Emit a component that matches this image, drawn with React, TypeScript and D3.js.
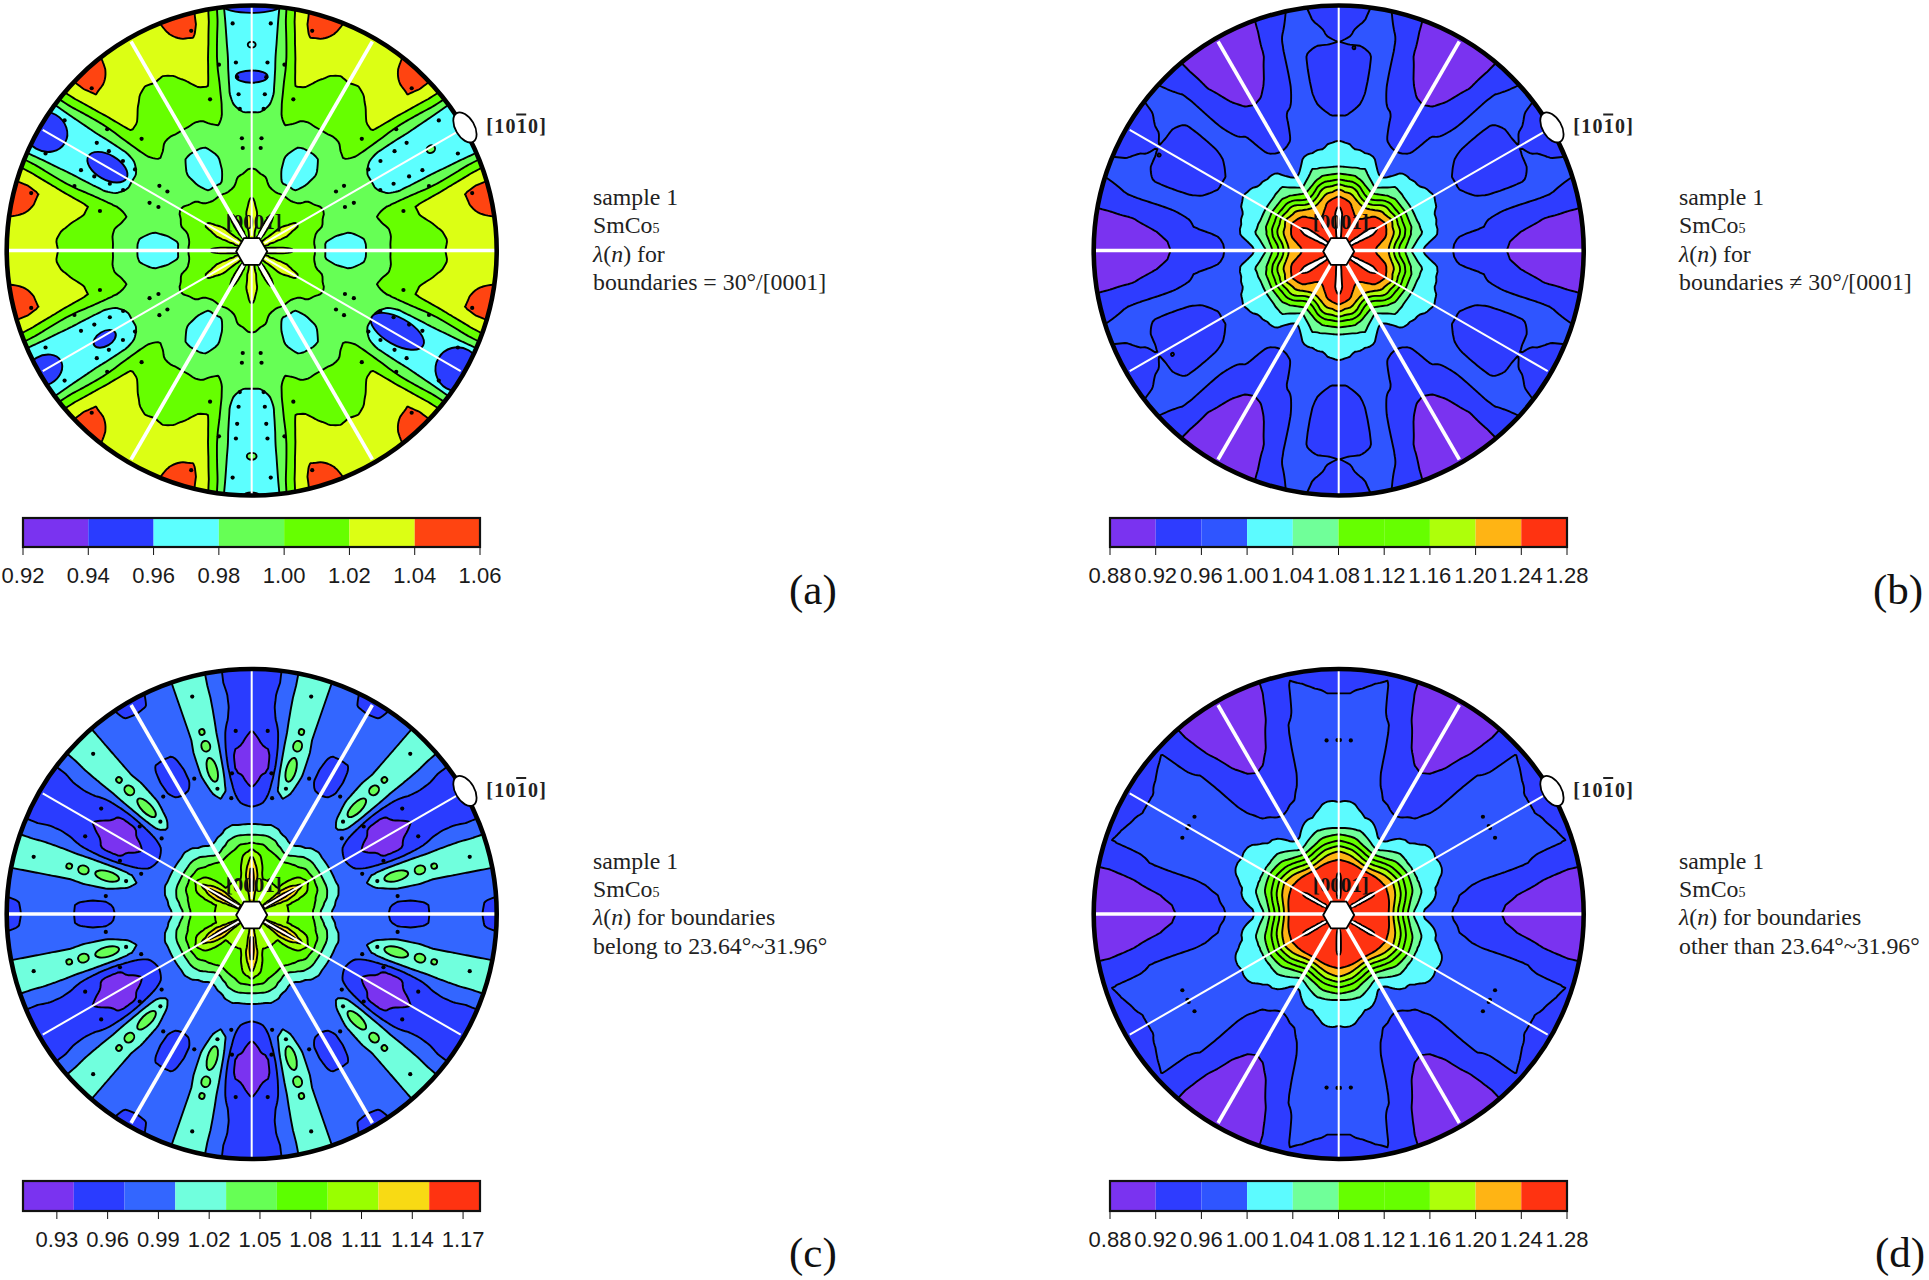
import * as d3 from 'd3';

// radial position (fraction of the circle radius) and angle from the thick axis, degrees
const radiusSteps = [0.05, 0.1, 0.15, 0.2, 0.25, 0.3, 0.35, 0.4, 0.45, 0.5, 0.55, 0.6, 0.65, 0.7, 0.75, 0.8, 0.85, 0.9, 0.95, 1.0];
const angleSteps = [0, 3, 6, 9, 12, 15, 18, 21, 24, 27, 30];

// lambda(n), one row per angle step
const lambdaA = [
  [1.03, 1.03, 1.024, 1.014, 1.004, 0.98, 0.972, 0.968, 0.976, 0.988, 0.998, 1.004, 1.01, 1.012, 1.016, 1.021, 1.028, 1.032, 1.034, 1.034],
  [1.03, 1.03, 1.022, 1.013, 1.004, 0.98, 0.972, 0.968, 0.976, 0.988, 0.998, 1.004, 1.01, 1.012, 1.015, 1.02, 1.028, 1.032, 1.035, 1.036],
  [1.022, 1.021, 1.016, 1.01, 1.003, 0.98, 0.972, 0.968, 0.978, 0.988, 0.997, 1.004, 1.01, 1.013, 1.017, 1.022, 1.03, 1.034, 1.038, 1.038],
  [1.015, 1.014, 1.012, 1.01, 1.003, 0.985, 0.978, 0.975, 0.985, 0.992, 0.998, 1.004, 1.012, 1.016, 1.021, 1.028, 1.034, 1.037, 1.04, 1.041],
  [1.015, 1.014, 1.012, 1.01, 1.004, 0.99, 0.986, 0.985, 0.988, 0.994, 1.001, 1.006, 1.014, 1.02, 1.026, 1.032, 1.036, 1.039, 1.045, 1.045],
  [1.015, 1.014, 1.012, 1.01, 1.004, 0.995, 0.99, 0.988, 0.99, 0.996, 1.003, 1.008, 1.015, 1.021, 1.026, 1.032, 1.037, 1.04, 1.045, 1.045],
  [1.016, 1.014, 1.012, 1.01, 1.005, 1.0, 0.992, 0.988, 0.99, 0.994, 0.998, 1.002, 1.006, 1.01, 1.012, 1.015, 1.02, 1.026, 1.032, 1.035],
  [1.024, 1.022, 1.02, 1.012, 1.006, 1.002, 0.992, 0.988, 0.986, 0.986, 0.984, 0.982, 0.982, 0.984, 0.986, 0.99, 0.995, 1.0, 1.006, 1.01],
  [1.028, 1.026, 1.024, 1.014, 1.008, 1.003, 0.994, 0.988, 0.986, 0.984, 0.983, 0.979, 0.976, 0.975, 0.975, 0.975, 0.974, 0.974, 0.974, 0.974],
  [1.03, 1.03, 1.028, 1.022, 1.012, 1.005, 0.997, 0.99, 0.988, 0.986, 0.982, 0.975, 0.972, 0.97, 0.97, 0.968, 0.968, 0.968, 0.968, 0.966],
  [1.032, 1.032, 1.03, 1.024, 1.012, 1.005, 0.998, 0.992, 0.988, 0.985, 0.982, 0.975, 0.972, 0.97, 0.968, 0.968, 0.968, 0.966, 0.966, 0.964],
];

const lambdaB = [
  [1.27, 1.26, 1.24, 1.207, 1.11, 1.035, 0.995, 0.98, 0.965, 0.95, 0.94, 0.93, 0.925, 0.918, 0.912, 0.905, 0.9, 0.9, 0.897, 0.897],
  [1.27, 1.26, 1.242, 1.21, 1.115, 1.045, 1.002, 0.98, 0.966, 0.952, 0.942, 0.932, 0.927, 0.92, 0.913, 0.907, 0.902, 0.9, 0.898, 0.898],
  [1.27, 1.262, 1.245, 1.215, 1.125, 1.055, 1.012, 0.99, 0.97, 0.957, 0.948, 0.94, 0.932, 0.926, 0.92, 0.912, 0.906, 0.902, 0.9, 0.9],
  [1.27, 1.265, 1.25, 1.225, 1.14, 1.065, 1.025, 1.003, 0.98, 0.97, 0.965, 0.96, 0.95, 0.943, 0.935, 0.928, 0.92, 0.918, 0.915, 0.915],
  [1.27, 1.268, 1.255, 1.23, 1.16, 1.08, 1.04, 1.005, 0.985, 0.975, 0.968, 0.963, 0.958, 0.952, 0.948, 0.945, 0.942, 0.94, 0.935, 0.93],
  [1.27, 1.268, 1.26, 1.238, 1.175, 1.085, 1.035, 1.003, 0.99, 0.98, 0.975, 0.97, 0.968, 0.966, 0.965, 0.964, 0.963, 0.96, 0.955, 0.95],
  [1.27, 1.27, 1.262, 1.245, 1.185, 1.095, 1.035, 1.006, 0.99, 0.98, 0.975, 0.97, 0.97, 0.97, 0.97, 0.97, 0.97, 0.968, 0.965, 0.962],
  [1.275, 1.27, 1.265, 1.25, 1.185, 1.095, 1.03, 1.006, 0.99, 0.98, 0.972, 0.962, 0.958, 0.957, 0.957, 0.958, 0.965, 0.97, 0.968, 0.965],
  [1.285, 1.28, 1.278, 1.26, 1.185, 1.095, 1.03, 1.008, 0.997, 0.978, 0.965, 0.955, 0.95, 0.948, 0.948, 0.952, 0.962, 0.965, 0.958, 0.955],
  [1.295, 1.295, 1.29, 1.262, 1.195, 1.097, 1.03, 1.01, 0.998, 0.975, 0.96, 0.95, 0.945, 0.945, 0.945, 0.95, 0.962, 0.958, 0.952, 0.948],
  [1.3, 1.3, 1.3, 1.272, 1.2, 1.1, 1.03, 1.012, 1.0, 0.975, 0.96, 0.95, 0.945, 0.945, 0.945, 0.95, 0.96, 0.955, 0.95, 0.945],
];

const lambdaC = [
  [1.11, 1.1, 1.092, 1.075, 1.06, 1.01, 0.99, 0.985, 0.98, 0.975, 0.972, 0.96, 0.96, 0.965, 0.975, 0.985, 0.985, 0.98, 0.968, 0.96],
  [1.11, 1.1, 1.09, 1.075, 1.06, 1.015, 0.99, 0.985, 0.98, 0.978, 0.974, 0.962, 0.962, 0.966, 0.975, 0.985, 0.985, 0.98, 0.97, 0.965],
  [1.105, 1.1, 1.09, 1.08, 1.065, 1.025, 0.995, 0.988, 0.985, 0.985, 0.98, 0.975, 0.975, 0.978, 0.98, 0.985, 0.985, 0.985, 0.98, 0.98],
  [1.105, 1.1, 1.09, 1.08, 1.068, 1.03, 0.998, 0.99, 0.99, 0.99, 0.992, 0.995, 0.995, 0.995, 0.992, 0.99, 0.99, 0.99, 0.99, 0.99],
  [1.1, 1.095, 1.09, 1.08, 1.07, 1.04, 1.003, 0.99, 0.992, 0.998, 1.004, 1.012, 1.01, 1.008, 1.005, 1.006, 1.006, 1.006, 1.006, 1.006],
  [1.1, 1.095, 1.09, 1.085, 1.07, 1.045, 1.005, 0.99, 0.995, 1.002, 1.012, 1.02, 1.022, 1.022, 1.02, 1.018, 1.016, 1.015, 1.014, 1.014],
  [1.105, 1.1, 1.1, 1.09, 1.075, 1.05, 1.008, 0.99, 0.992, 0.998, 1.006, 1.012, 1.014, 1.014, 1.012, 1.012, 1.01, 1.01, 1.01, 1.01],
  [1.115, 1.12, 1.122, 1.105, 1.085, 1.052, 1.008, 0.985, 0.98, 0.975, 0.972, 0.968, 0.968, 0.972, 0.975, 0.98, 0.985, 0.985, 0.98, 0.98],
  [1.125, 1.13, 1.13, 1.118, 1.09, 1.05, 1.008, 0.985, 0.972, 0.96, 0.948, 0.935, 0.935, 0.945, 0.955, 0.965, 0.968, 0.968, 0.965, 0.965],
  [1.14, 1.152, 1.15, 1.125, 1.095, 1.05, 1.008, 0.985, 0.968, 0.95, 0.94, 0.935, 0.935, 0.94, 0.948, 0.955, 0.96, 0.96, 0.96, 0.958],
  [1.2, 1.19, 1.18, 1.165, 1.11, 1.05, 1.008, 0.985, 0.965, 0.945, 0.93, 0.925, 0.925, 0.93, 0.94, 0.95, 0.955, 0.955, 0.955, 0.95],
];

const lambdaD = [
  [1.27, 1.27, 1.26, 1.25, 1.14, 1.045, 0.995, 0.98, 0.963, 0.95, 0.94, 0.93, 0.922, 0.915, 0.91, 0.9, 0.897, 0.895, 0.895, 0.895],
  [1.27, 1.27, 1.26, 1.25, 1.145, 1.05, 1.0, 0.982, 0.965, 0.952, 0.942, 0.932, 0.925, 0.917, 0.91, 0.902, 0.898, 0.895, 0.895, 0.895],
  [1.27, 1.27, 1.262, 1.252, 1.15, 1.06, 1.01, 0.99, 0.97, 0.957, 0.948, 0.94, 0.932, 0.925, 0.917, 0.91, 0.905, 0.9, 0.9, 0.898],
  [1.27, 1.27, 1.265, 1.255, 1.16, 1.07, 1.02, 0.998, 0.97, 0.96, 0.952, 0.948, 0.944, 0.94, 0.932, 0.925, 0.917, 0.912, 0.91, 0.908],
  [1.27, 1.27, 1.265, 1.258, 1.17, 1.08, 1.03, 1.003, 0.98, 0.97, 0.96, 0.952, 0.948, 0.945, 0.942, 0.94, 0.935, 0.93, 0.925, 0.925],
  [1.27, 1.27, 1.268, 1.26, 1.18, 1.09, 1.04, 1.002, 0.988, 0.98, 0.975, 0.97, 0.968, 0.966, 0.963, 0.96, 0.95, 0.945, 0.94, 0.938],
  [1.27, 1.27, 1.268, 1.26, 1.19, 1.1, 1.04, 1.01, 0.992, 0.982, 0.978, 0.975, 0.972, 0.97, 0.97, 0.968, 0.966, 0.964, 0.962, 0.958],
  [1.27, 1.27, 1.268, 1.262, 1.195, 1.105, 1.04, 1.012, 1.0, 0.985, 0.975, 0.975, 0.975, 0.975, 0.975, 0.975, 0.975, 0.97, 0.96, 0.955],
  [1.272, 1.27, 1.268, 1.262, 1.2, 1.11, 1.04, 1.015, 1.004, 0.985, 0.978, 0.975, 0.975, 0.975, 0.975, 0.975, 0.975, 0.965, 0.955, 0.95],
  [1.29, 1.285, 1.282, 1.262, 1.205, 1.115, 1.04, 1.015, 1.005, 0.985, 0.978, 0.975, 0.975, 0.975, 0.975, 0.975, 0.97, 0.96, 0.955, 0.95],
  [1.3, 1.3, 1.295, 1.265, 1.21, 1.12, 1.04, 1.012, 1.002, 0.985, 0.978, 0.975, 0.975, 0.975, 0.975, 0.975, 0.97, 0.96, 0.952, 0.948],
];

// colour band edges and fills
const edgesA = [0.92, 0.94, 0.96, 0.98, 1.0, 1.02, 1.04, 1.06];
const coloursA = ['#7a33f0', '#2a3cff', '#5cffff', '#66ff55', '#66ff00', '#dcff14', '#ff4411'];
const ticksA = ['0.92', '0.94', '0.96', '0.98', '1.00', '1.02', '1.04', '1.06'];

const edgesB = [0.88, 0.92, 0.96, 1.0, 1.04, 1.08, 1.12, 1.16, 1.2, 1.24, 1.28];
const coloursB = ['#7a33f0', '#2e3cff', '#2f55ff', '#5cfbff', '#70ff99', '#66ff00', '#66ff00', '#aeff0a', '#ffb414', '#ff3311'];
const ticksB = ['0.88', '0.92', '0.96', '1.00', '1.04', '1.08', '1.12', '1.16', '1.20', '1.24', '1.28'];

const edgesC = [0.91, 0.94, 0.97, 1.0, 1.03, 1.06, 1.09, 1.12, 1.15, 1.18];
const coloursC = ['#7a33f0', '#2a3cff', '#3366ff', '#70ffdd', '#66ff55', '#5cff00', '#99ff00', '#f8da14', '#ff3311'];
const ticksC = ['0.93', '0.96', '0.99', '1.02', '1.05', '1.08', '1.11', '1.14', '1.17'];
const tickValuesC = [0.93, 0.96, 0.99, 1.02, 1.05, 1.08, 1.11, 1.14, 1.17];

// small marks repeated round all twelve mirror sectors: [angle from thick axis, r]
const dotsA = [[25.2, 0.58], [25.2, 0.64], [25.2, 0.71], [25.2, 0.77], [25.2, 0.93], [14.6, 0.64], [14.6, 0.93], [20, 0.77], [25, 0.42], [25, 0.46]];
const dotsB: number[][] = [];
const dotsC = [[14.7, 0.53], [14.7, 0.92], [22, 0.58], [7, 0.6], [25, 0.75], [20, 0.48]];
const dotsD = [[26, 0.71], [29.6, 0.71]];

// green islands inside the lobes of map c: [angle, r, half length, half width]
const islandsC = [[14.7, 0.61, 0.05, 0.02], [14.7, 0.71, 0.022, 0.018], [14.7, 0.77, 0.012, 0.011]];

// single patches that break the symmetry: [theta, r, half length, half width, colour]
const patchesA: [number, number, number, number, string][] = [
  [150, 0.68, 0.09, 0.05, '#2a3cff'],
  [331, 0.68, 0.12, 0.055, '#2a3cff'],
  [211, 0.7, 0.05, 0.03, '#2a3cff'],
  [90, 0.71, 0.025, 0.065, '#2a3cff'],
  [150, 0.97, 0.09, 0.08, '#2a3cff'],
  [210, 0.98, 0.08, 0.06, '#2a3cff'],
  [330, 0.97, 0.09, 0.09, '#2a3cff'],
  [90, 1.0, 0.03, 0.12, '#2a3cff'],
  [270, 1.0, 0.012, 0.03, '#2a3cff'],
  [29.5, 0.84, 0.018, 0.015, '#66ff55'],
  [90, 0.84, 0.012, 0.016, '#5cffff'],
  [270, 0.84, 0.014, 0.02, '#66ff55'],
];
const patchesB: [number, number, number, number, string][] = [[85.7, 0.83, 0.006, 0.006, '#2e3cff'], [152, 0.83, 0.006, 0.006, '#2e3cff'], [212, 0.8, 0.006, 0.006, '#2e3cff']];

const notesA = ['sample 1', 'SmCo5', 'λ(n) for', 'boundaries = 30°/[0001]'];
const notesB = ['sample 1', 'SmCo5', 'λ(n) for', 'boundaries ≠ 30°/[0001]'];
const notesC = ['sample 1', 'SmCo5', 'λ(n) for boundaries', 'belong to 23.64°~31.96°'];
const notesD = ['sample 1', 'SmCo5', 'λ(n) for boundaries', 'other than 23.64°~31.96°'];

const panels = [
  { id: 'a', cx: 251.7, cy: 250.5, values: lambdaA, edges: edgesA, colours: coloursA, ticks: ticksA, tickValues: edgesA, dots: dotsA, islands: [], patches: patchesA, notes: notesA, barX: 23, barY: 518, barH: 29, noteX: 593, letterX: 789 },
  { id: 'b', cx: 1338.7, cy: 250.5, values: lambdaB, edges: edgesB, colours: coloursB, ticks: ticksB, tickValues: edgesB, dots: dotsB, islands: [], patches: patchesB, notes: notesB, barX: 1110, barY: 518, barH: 29, noteX: 1679, letterX: 1873 },
  { id: 'c', cx: 251.7, cy: 914, values: lambdaC, edges: edgesC, colours: coloursC, ticks: ticksC, tickValues: tickValuesC, dots: dotsC, islands: islandsC, patches: [], notes: notesC, barX: 23, barY: 1181, barH: 30, noteX: 593, letterX: 789 },
  { id: 'd', cx: 1338.7, cy: 914, values: lambdaD, edges: edgesB, colours: coloursB, ticks: ticksB, tickValues: edgesB, dots: dotsD, islands: [], patches: [], notes: notesD, barX: 1110, barY: 1181, barH: 30, noteX: 1679, letterX: 1875 },
];

const R = 245;
const BAR_W = 457;
const CELL = 2.5;
const GRID = Math.ceil((2 * R + 20) / CELL);

const angleIndex = d3.scaleLinear().domain([0, 30]).range([0, angleSteps.length - 1]);
const radiusIndex = d3.scaleLinear().domain([0.05, 1]).range([0, radiusSteps.length - 1]).clamp(true);
const gridToPx = d3.scaleLinear().domain([0, GRID]).range([-GRID * CELL / 2, GRID * CELL / 2]);

// value at a polar position, folded into the 0-30 degree wedge
function lookup(values: number[][], theta: number, r: number) {
  const t = ((theta % 60) + 60) % 60;
  const a = angleIndex(t > 30 ? 60 - t : t);
  const b = radiusIndex(r);
  const a0 = Math.min(Math.floor(a), angleSteps.length - 2);
  const b0 = Math.min(Math.floor(b), radiusSteps.length - 2);
  const fa = a - a0;
  const fb = b - b0;
  const top = values[a0][b0] * (1 - fb) + values[a0][b0 + 1] * fb;
  const bot = values[a0 + 1][b0] * (1 - fb) + values[a0 + 1][b0 + 1] * fb;
  return top * (1 - fa) + bot * fa;
}

function buildGrid(values: number[][]) {
  const out = new Array(GRID * GRID);
  for (let j = 0; j < GRID; j++) {
    for (let i = 0; i < GRID; i++) {
      const x = gridToPx(i + 0.5);
      const y = gridToPx(j + 0.5);
      const theta = (Math.atan2(-y, x) * 180) / Math.PI;
      out[j * GRID + i] = lookup(values, theta, Math.sqrt(x * x + y * y) / R);
    }
  }
  return out;
}

const toPolar = (cx: number, cy: number, theta: number, r: number): [number, number] => [
  cx + r * R * Math.cos((theta * Math.PI) / 180),
  cy - r * R * Math.sin((theta * Math.PI) / 180),
];

// every mirror copy of an angle in the 0-30 wedge
const mirrored = (alpha: number) => d3.range(6).flatMap((k) => [k * 60 + alpha, k * 60 - alpha]);

function Map({ panel }: { panel: any }) {
  const { id, cx, cy, values, edges, colours, dots, islands, patches } = panel;
  const grid = buildGrid(values);
  const contours = d3.contours().size([GRID, GRID]).smooth(true).thresholds(edges)(grid);
  const path = d3.geoPath(
    d3.geoTransform({
      point(x: number, y: number) {
        (this as any).stream.point(cx + gridToPx(x), cy + gridToPx(y));
      },
    })
  );
  const hexagon = d3.range(6).map((k) => {
    const a = (k * Math.PI) / 3;
    return `${cx + 15.5 * Math.cos(a)},${cy + 1 + 15.5 * Math.sin(a)}`;
  });
  const mark = toPolar(cx, cy, 30, 1.005);
  return (
    <g>
      <clipPath id={`disc-${id}`}>
        <circle cx={cx} cy={cy} r={R} />
      </clipPath>
      <g clipPath={`url(#disc-${id})`}>
        {contours.map((c: any, i: number) => (
          <path
            key={i}
            d={path(c) || ''}
            fill={i < colours.length ? colours[i] : '#ffffff'}
            stroke={i === 0 ? 'none' : '#000'}
            strokeWidth={1.9}
            strokeLinejoin="round"
          />
        ))}
        {patches.map((p: any, i: number) => {
          const [x, y] = toPolar(cx, cy, p[0], p[1]);
          return (
            <ellipse key={i} cx={x} cy={y} rx={p[2] * R} ry={p[3] * R} fill={p[4]} stroke="#000" strokeWidth={1.9} transform={`rotate(${-p[0]} ${x} ${y})`} />
          );
        })}
        {islands.flatMap((p: any, n: number) =>
          mirrored(p[0]).map((theta, i) => {
            const [x, y] = toPolar(cx, cy, theta, p[1]);
            return <ellipse key={`${n}-${i}`} cx={x} cy={y} rx={p[2] * R} ry={p[3] * R} fill="#66ff55" stroke="#000" strokeWidth={1.9} transform={`rotate(${-theta} ${x} ${y})`} />;
          })
        )}
        {dots.flatMap((p: number[], n: number) =>
          mirrored(p[0]).map((theta, i) => {
            const [x, y] = toPolar(cx, cy, theta, p[1]);
            return <circle key={`${n}-${i}`} cx={x} cy={y} r={2.1} fill="#000" />;
          })
        )}
      </g>
      <text x={cx + 2} y={cy - 22} textAnchor="middle" fontFamily="Liberation Serif" fontWeight="bold" fontSize={21} fill="#111">
        [0001]
      </text>
      {d3.range(12).map((k) => {
        const theta = k * 30;
        const thick = k % 2 === 0;
        const [x1, y1] = toPolar(cx, cy, theta, 0.06);
        const [x2, y2] = toPolar(cx, cy, theta, k % 6 === 0 || k % 6 === 3 ? 1 : 0.985);
        return <line key={k} x1={x1} y1={y1} x2={x2} y2={y2} stroke="#fff" strokeWidth={thick ? 3.6 : 2} />;
      })}
      <polygon points={hexagon.join(' ')} fill="#fff" stroke="#000" strokeWidth={1.8} />
      <circle cx={cx} cy={cy} r={R} fill="none" stroke="#000" strokeWidth={4.6} />
      <ellipse cx={mark[0]} cy={mark[1]} rx={16.5} ry={9.5} fill="#fff" stroke="#000" strokeWidth={1.8} transform={`rotate(60 ${mark[0]} ${mark[1]})`} />
      <text x={cx + 234.5} y={cy - 117.5} fontFamily="Liberation Serif" fontWeight="bold" fontSize={20} letterSpacing={1.3} fill="#222">
        [1010]
      </text>
      <rect x={cx + 264.5} y={cy - 137} width={10} height={2} fill="#222" />
    </g>
  );
}

function ColourBar({ panel }: { panel: any }) {
  const { edges, colours, ticks, tickValues, barX, barY, barH } = panel;
  const x = d3.scaleLinear().domain([edges[0], edges[edges.length - 1]]).range([barX, barX + BAR_W]);
  return (
    <g>
      {colours.map((c: string, i: number) => (
        <rect key={i} x={x(edges[i])} y={barY} width={x(edges[i + 1]) - x(edges[i])} height={barH} fill={c} />
      ))}
      <rect x={barX} y={barY} width={BAR_W} height={barH} fill="none" stroke="#111" strokeWidth={2.2} />
      {tickValues.map((v: number, i: number) => (
        <g key={i}>
          <line x1={x(v)} x2={x(v)} y1={barY + barH} y2={barY + barH + 8} stroke="#111" strokeWidth={1} />
          <text x={x(v)} y={barY + barH + 35.5} textAnchor="middle" fontFamily="Liberation Sans" fontSize={22} fill="#1a1a1a">
            {ticks[i]}
          </text>
        </g>
      ))}
    </g>
  );
}

function Notes({ panel }: { panel: any }) {
  const { notes, noteX, letterX, cy, id } = panel;
  const base = cy - 45.5;
  const line = (s: string) => {
    if (s === 'SmCo5') {
      return (
        <>
          SmCo<tspan fontSize={14}>5</tspan>
        </>
      );
    }
    if (s.startsWith('λ(n)')) {
      return (
        <>
          <tspan fontStyle="italic">λ</tspan>(<tspan fontStyle="italic">n</tspan>){s.slice(4)}
        </>
      );
    }
    return s;
  };
  return (
    <g fontFamily="Liberation Serif" fill="#222">
      {notes.map((s: string, i: number) => (
        <text key={i} x={noteX} y={base + i * 28.4} fontSize={23.8}>
          {line(s)}
        </text>
      ))}
      <text x={letterX} y={cy + 353} fontSize={43} fill="#111">
        ({id})
      </text>
    </g>
  );
}

export default function App() {
  return (
    <svg width={1929} height={1280} style={{ position: 'absolute', left: 0, top: 0, background: '#fff' }}>
      {panels.map((p) => (
        <g key={p.id}>
          <Map panel={p} />
          <ColourBar panel={p} />
          <Notes panel={p} />
        </g>
      ))}
    </svg>
  );
}
